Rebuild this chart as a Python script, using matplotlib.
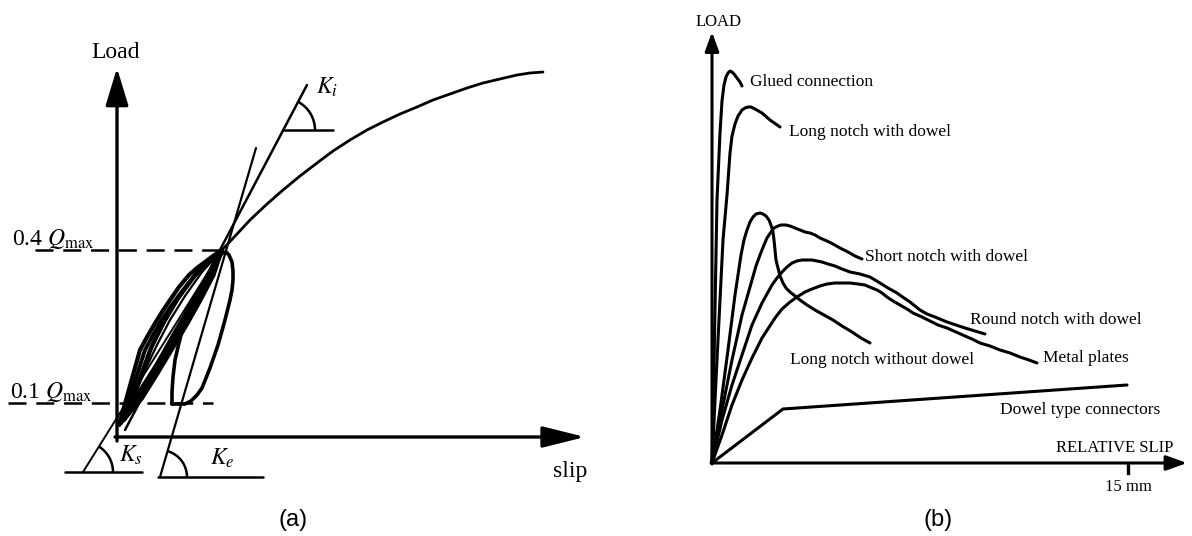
import numpy as np
import matplotlib
matplotlib.use("Agg")
import matplotlib.pyplot as plt
from matplotlib.patches import Arc

plt.rcParams['font.family'] = ['Liberation Serif', 'DejaVu Serif']
plt.rcParams['mathtext.fontset'] = 'stix'
plt.rcParams['lines.scale_dashes'] = False

# ================= Panel (a): load-slip with stiffness definitions =================
# drawing units; origin at the crossing of the axes
main_slip = [105, 120, 133, 150, 166, 183, 200, 216, 233, 250, 266, 283, 300, 316, 333, 350, 366, 383, 400, 413, 426]
main_load = [187, 203, 217, 233, 247, 261, 274, 286, 297, 307, 315, 323, 330, 337, 343, 349, 354, 358, 362, 364, 365]

# hysteresis loops (loading branch then unloading branch)
loopA_slip = [2, 9, 16, 23, 30, 37, 45, 53, 62, 72, 80, 88, 96, 105, 92, 78, 64, 49, 33, 17, 2]
loopA_load = [12, 37, 62, 87, 100, 112, 125, 137, 150, 162, 169, 175, 181, 187, 162, 137, 112, 87, 62, 37, 12]
loopA2_slip = [4, 12, 20, 28, 36, 44, 52, 60, 70, 80, 91, 105, 94, 80, 66, 51, 36, 20, 4]
loopA2_load = [14, 37, 62, 87, 102, 116, 128, 139, 152, 164, 176, 187, 162, 137, 112, 87, 62, 37, 14]
loopB_slip = [7, 15, 24, 33, 39, 45, 52, 60, 69, 78, 90, 105, 96, 83, 69, 54, 38, 23, 7]
loopB_load = [17, 37, 62, 87, 100, 112, 125, 137, 150, 162, 175, 187, 162, 137, 112, 87, 62, 37, 17]
loopB2_slip = [9, 17, 26, 35, 47, 61, 78, 93, 105, 97, 84, 70, 55, 40, 25, 9]
loopB2_load = [21, 42, 66, 90, 114, 138, 161, 177, 187, 162, 137, 112, 87, 62, 38, 21]
loopC_slip = [11, 20, 29, 40, 53, 68, 85, 105, 80, 58, 35, 11]
loopC_load = [25, 47, 69, 92, 117, 141, 165, 187, 145, 107, 66, 25]
loopR_slip = [55, 55, 56, 58, 61, 64, 68, 73, 79, 85, 91, 96, 101, 105, 109, 112, 115, 116, 116, 115, 113, 108, 101, 93, 85, 80, 74, 68, 61, 55]
loopR_load = [33, 45, 60, 77, 90, 102, 115, 127, 139, 150, 160, 169, 177, 184, 185, 182, 175, 166, 157, 147, 137, 117, 92, 69, 49, 42, 36, 33, 33, 33]

# stiffness secant / tangent lines
Ki_slip, Ki_load = [8, 190], [7, 352]
Ks_slip, Ks_load = [-34, 105], [-35, 187]
Ke_slip, Ke_load = [43, 139], [-40, 289]

q04_load, q04_slip = 187, [-82, 108]
q01_load, q01_slip = 34, [-109, 96]

# ================= Panel (b): typical load-slip curves of connectors =================
glued_x = [0, 2, 5, 8, 10, 12, 14, 16, 18, 20, 22, 25, 28, 30]
glued_y = [0, 100, 263, 330, 362, 378, 386, 390, 392, 391, 389, 385, 381, 377]
lnd_x = [0, 4, 8, 11, 15, 18, 20, 23, 26, 30, 33, 36, 39, 43, 50, 58, 68]
lnd_y = [0, 83, 163, 223, 268, 310, 327, 339, 347, 353, 355, 356, 356, 354, 350, 343, 336]
lnwo_x = [0, 8, 16, 23, 29, 32, 35, 38, 41, 44, 48, 51, 54, 57, 59, 61, 62, 63, 64, 66, 68, 71, 74, 78, 83, 88, 95, 103, 112, 121, 130, 140, 149, 158]
lnwo_y = [0, 53, 113, 168, 208, 223, 233, 241, 246, 249, 250, 249, 247, 243, 238, 231, 223, 213, 203, 195, 187, 180, 175, 171, 167, 163, 158, 153, 148, 143, 137, 131, 125, 120]
snd_x = [0, 10, 20, 30, 40, 44, 48, 52, 55, 59, 62, 66, 69, 74, 78, 83, 88, 93, 98, 103, 108, 115, 121, 128, 136, 143, 150]
snd_y = [0, 53, 103, 148, 183, 197, 208, 218, 225, 231, 235, 237, 238, 238, 237, 235, 233, 231, 230, 228, 225, 222, 219, 215, 211, 207, 204]
rnd_x = [0, 10, 20, 30, 40, 50, 60, 65, 70, 75, 80, 85, 90, 95, 100, 105, 110, 116, 123, 130, 138, 148, 158, 168, 176, 185, 192, 198, 203, 208, 215, 223, 235, 244, 253, 263, 273]
rnd_y = [0, 43, 78, 108, 138, 160, 178, 185, 191, 196, 200, 202, 203, 203, 203, 202, 201, 199, 197, 194, 191, 189, 186, 180, 175, 170, 165, 161, 157, 153, 149, 146, 141, 138, 135, 132, 129]
metal_x = [0, 10, 20, 30, 40, 50, 63, 70, 78, 85, 93, 100, 108, 115, 123, 130, 138, 146, 153, 160, 165, 170, 175, 181, 188, 195, 201, 210, 218, 226, 235, 244, 253, 260, 268, 278, 288, 298, 308, 317, 325]
metal_y = [0, 28, 58, 83, 105, 125, 145, 154, 161, 166, 171, 174, 177, 179, 180, 180, 180, 179, 178, 175, 173, 170, 166, 162, 158, 154, 150, 146, 142, 138, 135, 131, 127, 124, 120, 117, 113, 110, 106, 103, 100]
dowel_x = [0, 71, 415]
dowel_y = [0, 54, 78]

labels_b = ["Glued connection", "Long notch with dowel", "Short notch with dowel",
            "Round notch with dowel", "Long notch without dowel", "Metal plates",
            "Dowel type connectors"]
labels_b_x = [38, 77, 153, 258, 78, 331, 288]
labels_b_y = [381, 331, 206, 143, 103, 105, 53]
tick_15mm = 416

fig = plt.figure(figsize=(11.92, 5.36), dpi=100)
axa = fig.add_axes([0, 0, 600 / 1192, 1])
axa.set_xlim(-117, 483)
axa.set_ylim(-99, 437)
axa.axis('off')

axb = fig.add_axes([600 / 1192, 0, 592 / 1192, 1])
axb.set_xlim(-112, 480)
axb.set_ylim(-73, 463)
axb.axis('off')

K = 'black'
kw = dict(color=K, solid_joinstyle='round', solid_capstyle='round')

# ---- panel a axes
axa.annotate("", xy=(0, 369), xytext=(0, -4),
             arrowprops=dict(arrowstyle="-|>,head_length=2.3,head_width=0.7",
                             mutation_scale=10, lw=2.4, color=K, shrinkA=0, shrinkB=0))
axa.annotate("", xy=(468, 0), xytext=(-2, 0),
             arrowprops=dict(arrowstyle="-|>,head_length=2.6,head_width=0.65",
                             mutation_scale=10, lw=2.4, color=K, shrinkA=0, shrinkB=0))
axa.text(-1, 384, "Load", ha='center', va='center', fontsize=17)
axa.text(453, -35, "slip", ha='center', va='center', fontsize=17)

# reference levels
axa.plot(q04_slip, [q04_load, q04_load], color=K, lw=1.8, linestyle=(0, (13, 7)))
axa.plot(q01_slip, [q01_load, q01_load], color=K, lw=1.8, linestyle=(0, (13, 7)))
axa.text(-105, 198, r"0.4 $Q_{\mathrm{max}}$", ha='left', va='center', fontsize=17)
axa.text(-107, 45, r"0.1 $Q_{\mathrm{max}}$", ha='left', va='center', fontsize=17)

# loops
for xs, ys, lw in [(loopA_slip, loopA_load, 3.0), (loopA2_slip, loopA2_load, 2.8),
                   (loopB_slip, loopB_load, 2.8), (loopB2_slip, loopB2_load, 2.4),
                   (loopC_slip, loopC_load, 1.6), (loopR_slip, loopR_load, 2.6)]:
    axa.plot(xs, ys, lw=lw, **kw)

axa.plot(main_slip, main_load, lw=2.0, **kw)

for xs, ys, lw in [(Ki_slip, Ki_load, 1.8), (Ks_slip, Ks_load, 1.4), (Ke_slip, Ke_load, 1.6)]:
    axa.plot(xs, ys, lw=lw, **kw)

def angle_mark(ax, xs, ys, anchor, hlen_left, hlen_right, r):
    ang = np.degrees(np.arctan2(ys[1] - ys[0], xs[1] - xs[0]))
    cx, cy = anchor
    ax.plot([cx - hlen_left, cx + hlen_right], [cy, cy], lw=1.8, **kw)
    ax.add_patch(Arc((cx, cy), 2 * r, 2 * r, theta1=0, theta2=ang, lw=1.8, color=K))

angle_mark(axa, Ki_slip, Ki_load, (166, 307), 0, 50, 32)
angle_mark(axa, Ks_slip, Ks_load, (Ks_slip[0], Ks_load[0]), 18, 59, 30)
angle_mark(axa, Ke_slip, Ke_load, (Ke_slip[0], Ke_load[0]), 2, 103, 27)

axa.text(210, 350, r"$K_i$", ha='center', va='center', fontsize=17)
axa.text(14, -18, r"$K_s$", ha='center', va='center', fontsize=17)
axa.text(105, -21, r"$K_e$", ha='center', va='center', fontsize=17)
axa.text(176, -83, "(a)", ha='center', va='center', fontsize=17,
         family=['Liberation Sans', 'DejaVu Sans'])

# ---- panel b axes
axb.annotate("", xy=(0, 431), xytext=(0, -1),
             arrowprops=dict(arrowstyle="-|>,head_length=1.15,head_width=0.42",
                             mutation_scale=10, lw=2.2, color=K, shrinkA=0, shrinkB=0))
axb.annotate("", xy=(475, 0), xytext=(-1, 0),
             arrowprops=dict(arrowstyle="-|>,head_length=1.25,head_width=0.45",
                             mutation_scale=10, lw=2.2, color=K, shrinkA=0, shrinkB=0))
axb.plot([tick_15mm, tick_15mm], [-1, -10], lw=2.4, color=K)
axb.text(tick_15mm, -24, "15 mm", ha='center', va='center', fontsize=12)
axb.text(461, 15, "RELATIVE SLIP", ha='right', va='center', fontsize=12)
axb.text(7, 441, "LOAD", ha='center', va='center', fontsize=12)

for xs, ys in [(glued_x, glued_y), (lnd_x, lnd_y), (lnwo_x, lnwo_y), (snd_x, snd_y),
               (rnd_x, rnd_y), (metal_x, metal_y), (dowel_x, dowel_y)]:
    axb.plot(xs, ys, lw=2.2, **kw)

for t, x, y in zip(labels_b, labels_b_x, labels_b_y):
    axb.text(x, y, t, ha='left', va='center', fontsize=12.5)

axb.text(226, -57, "(b)", ha='center', va='center', fontsize=17,
         family=['Liberation Sans', 'DejaVu Sans'])

fig.savefig("out.png", dpi=100, facecolor='white')
